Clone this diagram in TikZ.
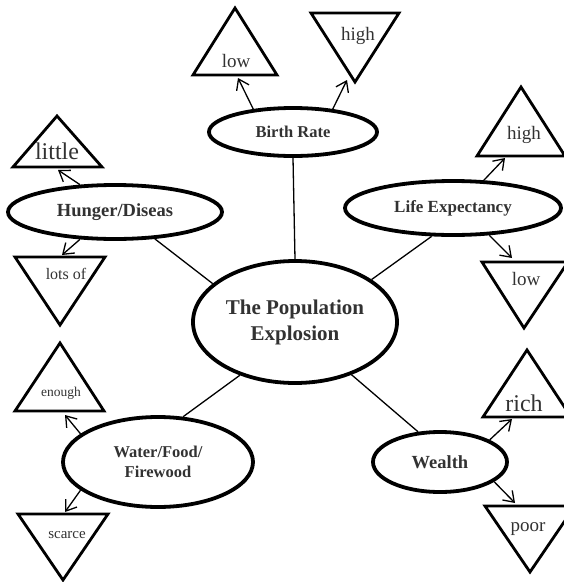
\documentclass[tikz,border=0pt]{standalone}
\usepackage{fontspec}
\setmainfont{Liberation Serif}
\usepackage{tikz}
\usetikzlibrary{arrows.meta,shapes.geometric}
\definecolor{TextGray}{RGB}{50,50,50}

\begin{document}
\begin{tikzpicture}[x=1pt,y=-1pt,
    topic/.style={draw, ellipse, line width=3.8pt, inner sep=0pt, text=TextGray, align=center},
    tri/.style={draw, line width=2.8pt, line join=miter},
    lbl/.style={inner sep=0pt, text=TextGray},
    link/.style={line width=1.3pt},
    pointer/.style={line width=1.3pt, -{Straight Barb[angle=70:12pt]}}]
        \useasboundingbox (0,0) rectangle (564,582);
        % centre and topics
        \node[topic, minimum width=204pt, minimum height=122pt, font=\fontsize{21}{26}\selectfont\bfseries] (pop) at (295,322) {The Population\\Explosion};
        \node[topic, minimum width=168pt, minimum height=48pt, font=\fontsize{16.5}{18}\selectfont\bfseries] (birth) at (293,132) {Birth Rate};
        \node[topic, minimum width=214pt, minimum height=54pt, font=\fontsize{18.5}{20}\selectfont\bfseries] (hunger) at (115,212) {Hunger/Diseas};
        \node[topic, minimum width=216pt, minimum height=54pt, font=\fontsize{17}{19}\selectfont\bfseries] (life) at (453,208) {Life Expectancy};
        \node[topic, minimum width=190pt, minimum height=90pt, font=\fontsize{16.5}{20}\selectfont\bfseries] (water) at (158,462) {Water/Food/\\Firewood};
        \node[topic, minimum width=134pt, minimum height=60pt, font=\fontsize{18.5}{20}\selectfont\bfseries] (wealth) at (440,462) {Wealth};
        \draw[link] (pop.90) -- (birth.-90);
        \draw[link] (pop.155) -- (hunger.-34);
        \draw[link] (pop.29) -- (life.-127);
        \draw[link] (pop.-136) -- (water.61);
        \draw[link] (pop.-43) -- (wealth.126);
        % triangles
        \draw[tri] (193,75) -- (235,8) -- (277,75) -- cycle;
        \draw[tri] (311,13) -- (399,13) -- (355,82) -- cycle;
        \draw[tri] (13,167) -- (57,116) -- (102,167) -- cycle;
        \draw[tri] (15,257) -- (105,257) -- (60,325) -- cycle;
        \draw[tri] (477,156) -- (521,87) -- (565,156) -- cycle;
        \draw[tri] (482,262) -- (568,262) -- (524,328) -- cycle;
        \draw[tri] (15,411) -- (60,343) -- (104,411) -- cycle;
        \draw[tri] (18,514) -- (108,514) -- (63,580) -- cycle;
        \draw[tri] (483,417) -- (527,350) -- (571,417) -- cycle;
        \draw[tri] (485,506) -- (575,506) -- (530,572) -- cycle;
        \node[lbl, font=\fontsize{19}{20}\selectfont] (low) at (236,61) {low};
        \node[lbl, font=\fontsize{19}{20}\selectfont] (high) at (358,36) {high};
        \node[lbl, font=\fontsize{24}{25}\selectfont] (little) at (57,151) {little};
        \node[lbl, font=\fontsize{16}{17}\selectfont] (lots) at (66,274) {lots of};
        \node[lbl, font=\fontsize{19}{20}\selectfont] (highR) at (524,135) {high};
        \node[lbl, font=\fontsize{19}{20}\selectfont] (lowR) at (526,279) {low};
        \node[lbl, font=\fontsize{13.5}{14}\selectfont] (enough) at (61,393) {enough};
        \node[lbl, font=\fontsize{15}{16}\selectfont] (scarce) at (67,535) {scarce};
        \node[lbl, font=\fontsize{24}{25}\selectfont] (rich) at (524,403) {rich};
        \node[lbl, font=\fontsize{19}{20}\selectfont] (poor) at (528,529) {poor};
        % arrow ends just off the triangle bases
        \coordinate (lowB) at (238,78);
        \coordinate (highB) at (347,80);
        \coordinate (littleB) at (58,170);
        \coordinate (lotsB) at (62,255);
        \coordinate (highRB) at (505,158);
        \coordinate (lowRB) at (512,258);
        \coordinate (enoughB) at (65,415);
        \coordinate (scarceB) at (65,512);
        \coordinate (richB) at (512,419);
        \coordinate (poorB) at (515,503);
        \draw[pointer] (birth.150) -- (lowB);
        \draw[pointer] (birth.30) -- (highB);
        \draw[pointer] (hunger.142) -- (littleB);
        \draw[pointer] (hunger.-142) -- (lotsB);
        \draw[pointer] (life.42) -- (highRB);
        \draw[pointer] (life.-37) -- (lowRB);
        \draw[pointer] (water.160) -- (enoughB);
        \draw[pointer] (water.-160) -- (scarceB);
        \draw[pointer] (wealth.24) -- (richB);
        \draw[pointer] (wealth.-20) -- (poorB);
      \end{tikzpicture}
\end{document}
